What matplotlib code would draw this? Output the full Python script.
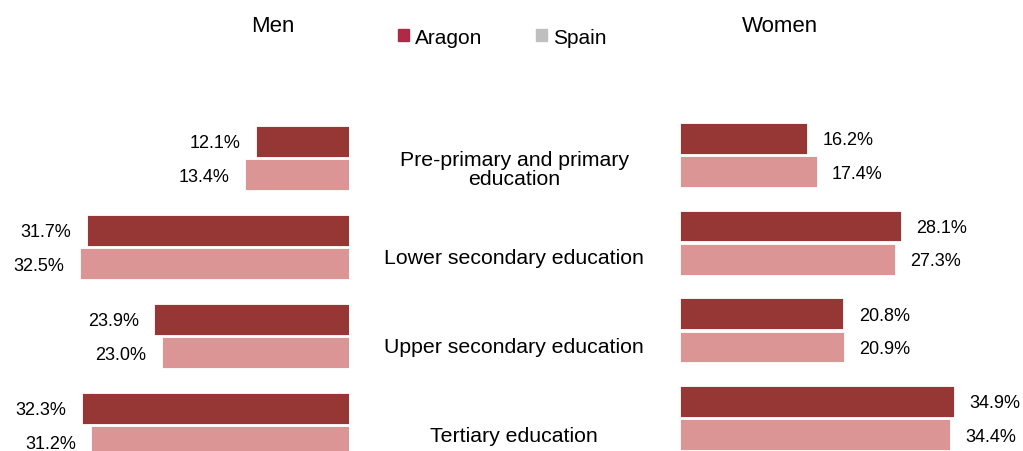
"""Share of population by education level, Aragon vs Spain, men and women."""

import matplotlib

matplotlib.use("Agg")
import matplotlib.pyplot as plt
import numpy as np
from matplotlib.patches import Patch
from matplotlib.transforms import blended_transform_factory

plt.rcParams["font.family"] = ["Liberation Sans", "DejaVu Sans"]

categories = [
    "Pre-primary and primary\neducation",
    "Lower secondary education",
    "Upper secondary education",
    "Tertiary education",
]
men_aragon = [12.1, 31.7, 23.9, 32.3]
men_spain = [13.4, 32.5, 23.0, 31.2]
women_aragon = [16.2, 28.1, 20.8, 34.9]
women_spain = [17.4, 27.3, 20.9, 34.4]

DARK = "#963735"
LIGHT = "#DB9594"
LEGEND_ARAGON = "#B02A48"
LEGEND_SPAIN = "#BFBFBF"

W, H = 1023, 452
fig = plt.figure(figsize=(W / 100, H / 100), dpi=100)

y = np.arange(len(categories))
off, bh = 0.19, 0.35


def px_axes(left, top, right, bottom):
    return fig.add_axes([left / W, 1 - bottom / H, (right - left) / W, (bottom - top) / H])


# men panel: bars grow leftwards from the centre
ax_m = px_axes(0, 159 - 1.5 * 89, 349, 159 + 3.5 * 89)
ax_m.barh(y - off, men_aragon, bh, color=DARK, edgecolor="white", linewidth=0.6)
ax_m.barh(y + off, men_spain, bh, color=LIGHT, edgecolor="white", linewidth=0.6)
ax_m.set_xlim(1.32 + 349 / 8.63, 1.32)
ax_m.set_ylim(3.5, -1.5)
for yy, v in zip(y - off, men_aragon):
    ax_m.annotate(f"{v:.1f}%", (v, yy), xytext=(-11, -1), textcoords="offset points",
                  ha="right", va="center", fontsize=13)
for yy, v in zip(y + off, men_spain):
    ax_m.annotate(f"{v:.1f}%", (v, yy), xytext=(-11, -1), textcoords="offset points",
                  ha="right", va="center", fontsize=13)

# women panel
ax_w = px_axes(680, 156 - 1.5 * 87.7, 1023, 156 + 3.5 * 87.7)
ax_w.barh(y - off, women_aragon, bh, color=DARK, edgecolor="white", linewidth=0.6)
ax_w.barh(y + off, women_spain, bh, color=LIGHT, edgecolor="white", linewidth=0.6)
ax_w.set_xlim(0, 343 / 7.86)
ax_w.set_ylim(3.5, -1.5)
for yy, v in zip(y - off, women_aragon):
    ax_w.annotate(f"{v:.1f}%", (v, yy), xytext=(11, -1), textcoords="offset points",
                  ha="left", va="center", fontsize=13)
for yy, v in zip(y + off, women_spain):
    ax_w.annotate(f"{v:.1f}%", (v, yy), xytext=(11, -1), textcoords="offset points",
                  ha="left", va="center", fontsize=13)

for ax in (ax_m, ax_w):
    ax.axis("off")

# category labels in the middle column
trans = blended_transform_factory(fig.transFigure, ax_m.transData)
for yy, name in zip(y, categories):
    fig.text(514 / W, yy + 0.12, name, transform=trans, ha="center", va="center",
             fontsize=15.3, linespacing=1.0)

fig.text(273 / W, 1 - 27 / H, "Men", ha="center", va="center", fontsize=16)
fig.text(780 / W, 1 - 27 / H, "Women", ha="center", va="center", fontsize=16)

handles = [Patch(color=LEGEND_ARAGON), Patch(color=LEGEND_SPAIN)]
fig.legend(handles, ["Aragon", "Spain"], loc="center", bbox_to_anchor=(502 / W, 1 - 38 / H),
           ncol=2, frameon=False, fontsize=15, handlelength=0.55, handleheight=0.55,
           handletextpad=0.25, columnspacing=2.6)

fig.savefig("out.png", dpi=100)
